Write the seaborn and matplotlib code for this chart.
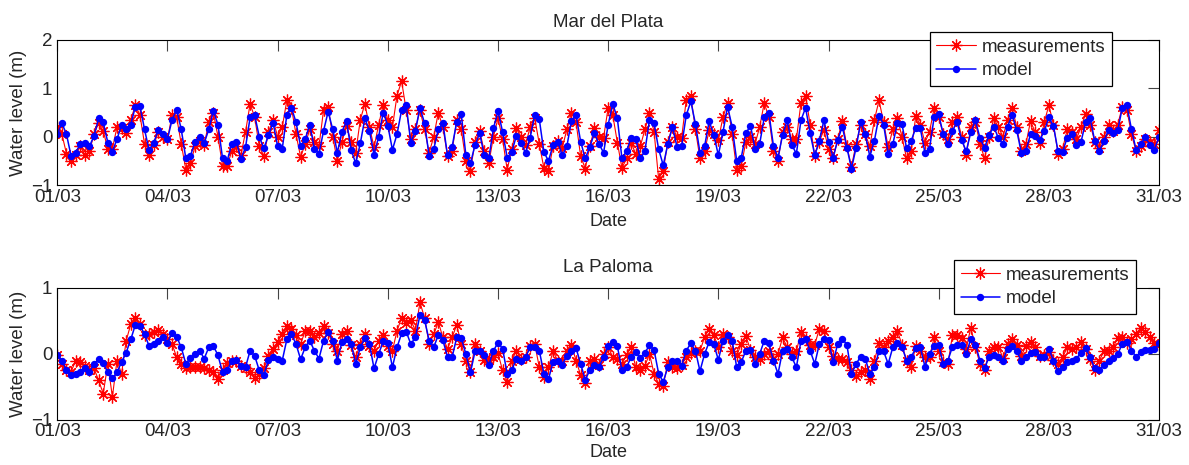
import pandas as pd
import matplotlib
matplotlib.use("Agg")
import matplotlib.pyplot as plt
import matplotlib.dates as mdates
import seaborn as sns

# ==========================================
# Data (3-hourly water levels)
# ==========================================

start_date = "2010-03-01"
tick_days = [1, 4, 7, 10, 13, 16, 19, 22, 25, 28, 31]
titles = ["Mar del Plata", "La Paloma"]

# Mar del Plata - measurements
mdp_meas = [
    0.20, 0.05, -0.35, -0.50, -0.38, -0.20, -0.38, -0.30, 0.05, 0.28,
    0.12, -0.25, -0.25, 0.20, 0.18, 0.08, 0.35, 0.65, 0.45, -0.15,
    -0.38, -0.18, 0.10, 0.00, -0.05, 0.45, 0.40, -0.15, -0.68, -0.55,
    -0.20, -0.08, -0.17, 0.30, 0.50, 0.00, -0.60, -0.60, -0.30, -0.20,
    -0.38, 0.10, 0.68, 0.40, -0.20, -0.40, 0.10, 0.35, 0.00, 0.20,
    0.75, 0.60, 0.05, -0.42, -0.15, 0.15, -0.10, -0.20, 0.55, 0.62,
    0.00, -0.50,
    -0.10, 0.22, -0.10, -0.33, 0.35, 0.68, 0.20, -0.22, 0.25, 0.66,
    0.35, 0.20, 0.85, 1.15, 0.55, -0.05, 0.15, 0.55, 0.15, -0.33,
    0.00, 0.50, 0.20, -0.40, -0.30, 0.35, 0.15, -0.50, -0.70, -0.10,
    0.12, -0.30, -0.55, 0.00, 0.38, -0.05, -0.68, -0.25, 0.17, 0.00,
    -0.17, 0.20, 0.38, -0.15, -0.65, -0.70, -0.20, -0.08, -0.23, 0.15,
    0.50, 0.30, -0.40, -0.66, -0.20, 0.17, 0.00, -0.02, 0.60, 0.45,
    -0.12,
    -0.65, -0.45, -0.12, -0.36, -0.20, 0.15, 0.48, 0.10, -0.88, -0.70,
    -0.10, 0.20, 0.00, -0.02, 0.75, 0.85, 0.15, -0.45, -0.30, 0.13,
    0.05, -0.07, 0.40, 0.70, 0.05, -0.68, -0.60, -0.10, 0.00, -0.15,
    0.20, 0.70, 0.40, -0.30, -0.50, 0.10, 0.20, -0.05, -0.05, 0.70,
    0.85, 0.25, -0.40, -0.10, 0.14, -0.25, -0.45, -0.05, 0.33, -0.20,
    -0.62, -0.15, 0.24, 0.05, -0.20, 0.35, 0.75, 0.30, -0.22,
    0.15, 0.38, 0.00, -0.45, -0.30, 0.42, 0.25, -0.12, 0.10, 0.59,
    0.40, 0.05, -0.05, 0.30, 0.40, 0.00, -0.38, 0.20, 0.30, -0.15,
    -0.45, 0.00, 0.38, 0.20, 0.00, 0.35, 0.60, 0.20, -0.30, -0.15,
    0.32, 0.10, -0.14, 0.30, 0.65, 0.25, -0.35, -0.25, 0.15, 0.10,
    -0.05, 0.20, 0.47, 0.25, -0.10, -0.23, 0.00, 0.24, 0.12, 0.25,
    0.62, 0.55, 0.05, -0.30, -0.20, -0.05, -0.10, -0.15, 0.14,
]

# Mar del Plata - model
mdp_model = [
    0.05, 0.28, 0.05, -0.40, -0.33, -0.15, -0.12, -0.20, 0.02, 0.38,
    0.30, -0.12, -0.31, -0.05, 0.24, 0.16, 0.25, 0.62, 0.64, 0.15,
    -0.28, -0.12, 0.13, 0.06, -0.05, 0.35, 0.56, 0.15, -0.45, -0.40,
    -0.10, 0.00, -0.13, 0.15, 0.53, 0.25, -0.45, -0.50, -0.15, -0.10,
    -0.46, -0.22, 0.40, 0.44, 0.00, -0.24, 0.03, 0.29, -0.20, -0.25,
    0.45, 0.60, 0.30, -0.20, -0.05, 0.25, -0.25, -0.35, 0.12, 0.52,
    0.15, -0.33,
    0.10, 0.32, -0.27, -0.55, -0.14, 0.38, 0.12, -0.37, 0.00, 0.50,
    0.23, -0.27, 0.05, 0.55, 0.66, -0.12, 0.12, 0.60, 0.28, -0.40,
    -0.26, 0.15, 0.28, -0.38, -0.21, 0.30, 0.46, -0.38, -0.55, -0.17,
    0.07, -0.38, -0.45, 0.17, 0.53, 0.10, -0.43, -0.32, 0.02, -0.12,
    -0.34, -0.02, 0.45, 0.36, -0.32, -0.50, -0.17, -0.10, -0.38, -0.20,
    0.33, 0.45, -0.10, -0.45, -0.21, 0.07, -0.15, -0.33, 0.25, 0.68,
    0.38,
    -0.45, -0.30, -0.02, -0.05, -0.45, -0.30, 0.35, 0.28, -0.26, -0.59,
    -0.15, 0.20, -0.21, -0.19, 0.44, 0.73, 0.27, -0.33, -0.20, 0.32,
    0.04, -0.38, 0.09, 0.62, 0.21, -0.50, -0.43, 0.07, 0.23, -0.25,
    -0.15, 0.40, 0.50, -0.19, -0.43, 0.04, 0.34, -0.17, -0.35, 0.34,
    0.60, 0.07, -0.38, -0.08, 0.34, -0.10, -0.43, -0.07, 0.21, -0.23,
    -0.66, -0.23, 0.30, 0.05, -0.41, -0.08, 0.43, 0.25, -0.35,
    -0.16, 0.28, 0.26, -0.24, -0.09, 0.18, 0.17, -0.33, -0.25, 0.40,
    0.46, 0.05, -0.15, 0.12, 0.31, -0.07, -0.30, 0.09, 0.34, -0.03,
    -0.23, 0.04, 0.21, -0.03, -0.15, 0.21, 0.45, 0.13, -0.33, -0.29,
    0.05, 0.02, -0.07, 0.11, 0.40, 0.22, -0.30, -0.31, -0.02, 0.05,
    -0.17, -0.11, 0.30, 0.38, -0.09, -0.30, -0.09, 0.14, 0.08, 0.13,
    0.60, 0.65, 0.15, -0.27, -0.16, 0.00, -0.17, -0.27, 0.00,
]

# La Paloma - measurements
lp_meas = [
    -0.02, -0.15, -0.25, -0.27, -0.10, -0.12, -0.18, -0.24, -0.22, -0.40,
    -0.60, -0.15, -0.65, -0.10, -0.30, 0.20, 0.45, 0.55, 0.45, 0.28,
    0.30, 0.33, 0.36, 0.30, 0.22, 0.15, -0.05, -0.15, -0.22, -0.20,
    -0.19, -0.20, -0.22, -0.24, -0.28, -0.38, -0.25, -0.14, -0.11, -0.10,
    -0.18, -0.22, -0.27, -0.37, -0.31, -0.22, -0.03, 0.08, 0.18, 0.30,
    0.42, 0.38, 0.28, 0.15, 0.35, 0.35, 0.25, 0.32, 0.43, 0.32,
    0.15, 0.05,
    0.30, 0.35, 0.13, -0.05, 0.15, 0.30, 0.12, 0.05, 0.20, 0.28,
    0.12, 0.05, 0.35, 0.55, 0.47, 0.52, 0.35, 0.78, 0.55, 0.15,
    0.30, 0.48, 0.25, 0.08, 0.25, 0.44, 0.15, -0.10, -0.28, 0.15,
    0.05, -0.09, -0.09, -0.05, 0.01, -0.25, -0.42, -0.10, 0.05, -0.08,
    -0.05, 0.12, 0.15, -0.20, -0.35, -0.20, 0.04, -0.10, -0.10, 0.05,
    0.14, -0.10, -0.32, -0.44, -0.10, -0.08, -0.16, 0.00, 0.11, -0.05,
    -0.08,
    -0.15, -0.02, 0.10, -0.20, -0.24, -0.18, 0.00, -0.30, -0.45, -0.48,
    -0.12, -0.20, -0.22, -0.17, -0.05, 0.02, 0.04, 0.05, 0.25, 0.38,
    0.28, 0.11, 0.30, 0.25, 0.05, -0.02, 0.15, 0.27, 0.06, -0.05,
    -0.08, 0.00, 0.04, -0.07, 0.00, 0.25, 0.10, 0.00, 0.04, 0.33,
    0.22, 0.14, 0.14, 0.38, 0.35, 0.11, -0.03, -0.07, -0.08, -0.12,
    -0.25, -0.33, -0.28, -0.24, -0.38, -0.10, 0.16, 0.10, 0.20,
    0.25, 0.35, 0.14, -0.10, -0.20, 0.12, 0.05, -0.05, -0.05, 0.25,
    0.05, -0.12, -0.15, 0.28, 0.28, 0.24, 0.08, 0.40, 0.10, -0.15,
    -0.25, 0.05, 0.10, 0.11, -0.06, 0.15, 0.22, 0.14, -0.03, 0.12,
    0.18, 0.10, -0.03, -0.02, 0.03, -0.09, -0.15, -0.05, 0.10, 0.08,
    0.10, 0.18, 0.08, -0.08, -0.25, -0.10, 0.04, 0.05, 0.10, 0.24,
    0.26, 0.16, 0.22, 0.30, 0.40, 0.33, 0.26, 0.17, 0.14,
]

# La Paloma - model
lp_model = [
    -0.02, -0.10, -0.25, -0.32, -0.30, -0.27, -0.22, -0.27, -0.15, -0.08,
    -0.14, -0.28, -0.37, -0.28, -0.12, 0.02, 0.22, 0.44, 0.43, 0.30,
    0.12, 0.15, 0.19, 0.26, 0.17, 0.32, 0.26, 0.10, -0.15, -0.06,
    0.00, 0.05, -0.07, 0.10, 0.12, -0.02, -0.28, -0.25, -0.10, -0.09,
    -0.18, -0.20, 0.05, -0.03, -0.25, -0.32, -0.09, -0.05, -0.08, -0.10,
    0.22, 0.30, 0.15, -0.08, 0.10, 0.20, 0.05, -0.07, 0.20, 0.33,
    0.20, -0.10,
    0.18, 0.22, 0.15, -0.15, 0.10, 0.24, 0.15, -0.22, 0.00, 0.19,
    0.16, -0.20, 0.10, 0.31, 0.34, 0.15, 0.25, 0.59, 0.52, 0.20,
    0.10, 0.29, 0.21, -0.05, -0.05, 0.25, 0.24, 0.00, -0.28, 0.04,
    0.04, -0.02, -0.17, 0.05, 0.17, 0.08, -0.30, -0.25, -0.07, -0.10,
    -0.05, 0.10, 0.11, 0.05, -0.30, -0.38, -0.12, -0.10, -0.16, -0.03,
    0.05, 0.09, -0.15, -0.39, -0.25, -0.17, -0.19, -0.05, 0.12, 0.18,
    0.12,
    -0.25, -0.20, -0.05, 0.03, -0.06, 0.02, 0.13, 0.06, -0.30, -0.42,
    -0.20, -0.10, -0.10, -0.18, 0.05, 0.16, 0.05, -0.26, 0.00, 0.18,
    0.15, -0.09, 0.20, 0.28, 0.20, -0.20, -0.12, 0.05, 0.06, -0.15,
    0.00, 0.20, 0.16, -0.10, -0.30, 0.05, 0.07, -0.05, -0.20, 0.20,
    0.22, 0.05, -0.15, 0.15, 0.23, 0.21, -0.12, 0.15, 0.23, 0.14,
    -0.30, -0.15, -0.04, -0.07, -0.30, -0.20, 0.04, 0.04, -0.15,
    0.10, 0.16, 0.11, -0.10, -0.05, 0.09, 0.10, -0.19, 0.00, 0.12,
    0.13, -0.15, -0.10, 0.11, 0.14, 0.14, 0.00, 0.23, 0.14, -0.10,
    -0.22, -0.04, -0.02, -0.05, -0.10, 0.08, 0.12, 0.04, -0.11, -0.05,
    0.01, 0.03, -0.04, -0.05, 0.08, -0.10, -0.26, -0.20, -0.12, -0.10,
    -0.07, 0.02, 0.09, -0.05, -0.22, -0.25, -0.16, -0.10, -0.06, 0.00,
    0.15, 0.18, 0.05, -0.04, 0.03, 0.06, 0.06, 0.07, 0.16,
]


def make_frame(levels):
    times = pd.date_range(start_date, periods=len(levels), freq="3h")
    return pd.DataFrame({"time": times, "level": levels})


# ==========================================
# Style
# ==========================================

sns.set_style("white")
plt.rcParams["font.family"] = ["Liberation Sans", "DejaVu Sans"]
plt.rcParams["font.size"] = 13.5

fig = plt.figure(figsize=(11.89, 4.65), dpi=100)
fig.patch.set_facecolor("white")

ax_top = fig.add_axes([0.0482, 0.602, 0.9266, 0.312])
ax_bot = fig.add_axes([0.0482, 0.0968, 0.9266, 0.284])

# axes, meas, model, title, yticks, legend anchor, title pad, xlabel y
panels = [
    (ax_top, mdp_meas, mdp_model, titles[0], [-1, 0, 1, 2], (0.957, 1.055), 9.5, -0.19),
    (ax_bot, lp_meas, lp_model, titles[1], [-1, 0, 1], (0.979, 1.212), 11.5, -0.182),
]

for ax, meas, model, title, yticks, anchor, tpad, xlab_y in panels:
    sns.lineplot(
        data=make_frame(meas), x="time", y="level", ax=ax,
        color="red", linewidth=0.8, sort=False,
        marker=(8, 2, 0), markersize=8.5,
        markeredgecolor="red", markeredgewidth=0.9,
        label="measurements",
    )
    sns.lineplot(
        data=make_frame(model), x="time", y="level", ax=ax,
        color="blue", linewidth=1.1, sort=False,
        marker="o", markersize=5.3,
        markerfacecolor="blue", markeredgecolor="blue", markeredgewidth=0,
        label="model",
    )

    ax.set_xlim(pd.Timestamp("2010-03-01"), pd.Timestamp("2010-03-31"))
    ax.set_ylim(yticks[0], yticks[-1])
    ax.set_yticks(yticks)
    ax.xaxis.set_major_locator(mdates.DayLocator(bymonthday=tick_days))
    ax.xaxis.set_major_formatter(mdates.DateFormatter("%d/%m"))

    ax.tick_params(axis="both", which="major", direction="in", length=8,
                   width=0.8, color="#444444", top=True, right=True,
                   labelsize=13.5)
    ax.tick_params(axis="x", pad=2.5)
    ax.tick_params(axis="y", pad=3.5)
    for sp in ax.spines.values():
        sp.set_color("black")
        sp.set_linewidth(0.8)

    ax.set_title(title, fontsize=13.5, pad=tpad)
    ax.set_xlabel("Date", fontsize=13)
    ax.set_ylabel("Water level (m)", fontsize=13.5)
    ax.xaxis.set_label_coords(0.5, xlab_y)
    ax.yaxis.set_label_coords(-0.0275, 0.5)

    leg = ax.legend(
        loc="upper right", bbox_to_anchor=anchor, borderaxespad=0,
        fancybox=False, framealpha=1, edgecolor="black", fontsize=13.5,
        handlelength=2.1, handletextpad=0.3, labelspacing=0.35,
        borderpad=0.35, numpoints=1,
    )
    leg.get_frame().set_linewidth(0.9)
    leg.set_zorder(10)

fig.savefig("out.png", dpi=100)
